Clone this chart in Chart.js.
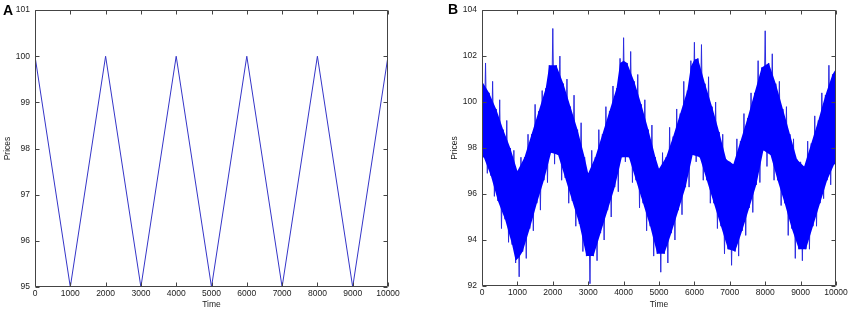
<!DOCTYPE html>
<html>
<head>
<meta charset="utf-8">
<script src="https://cdn.jsdelivr.net/npm/chart.js@4/dist/chart.umd.min.js"></script>
<style>
	html, body { margin: 0; padding: 0; background: #fff; }
	body { width: 851px; height: 311px; position: relative; overflow: hidden; }
	.panel { position: absolute; top: 0; }
	.letter { position: absolute; font: bold 14px "Liberation Sans", Arial, sans-serif; line-height: 14px; color: #000; z-index: 2; }
</style>
</head>
<body>
<div class="letter" style="left:3px; top:3px;">A</div>
<div class="letter" style="left:448px; top:2px;">B</div>
<canvas id="chartA" class="panel" style="left:0px;" width="430" height="311"></canvas>
<canvas id="chartB" class="panel" style="left:447px;" width="404" height="311"></canvas>
<script>
"use strict";

// Panel A: the clean triangle wave
const timesA = [0, 1000, 2000, 3000, 4000, 5000, 6000, 7000, 8000, 9000, 10000];
const pricesA = [100, 95, 100, 95, 100, 95, 100, 95, 100, 95, 100];

// Panel B: noisy prices, read as local highs (t = 0, 100, ... 10000)
// and local lows (t = 50, 150, ... 9950)
const highsB = [
	100.9, 101.7, 100.4, 100.9, 99.7, 100.1, 98.8, 99.2, 98.0, 97.9,
	97.0, 97.6, 97.6, 98.6, 98.6, 99.9, 99.6, 100.5, 100.6, 101.6,
	103.2, 101.6, 102.0, 100.8, 101.0, 99.8, 100.3, 98.8, 99.1, 97.6,
	96.9, 97.9, 97.6, 98.8, 98.6, 99.8, 99.6, 100.7, 100.6, 101.9,
	102.8, 101.7, 102.2, 100.9, 101.2, 99.9, 100.1, 98.8, 99.0, 97.6,
	97.1, 97.8, 97.6, 98.9, 98.5, 99.7, 99.5, 100.9, 100.5, 101.8,
	102.6, 101.9, 102.5, 100.8, 101.1, 99.8, 100.0, 98.7, 98.6, 97.5,
	97.4, 97.3, 98.4, 98.3, 99.5, 99.3, 100.4, 100.4, 101.8, 101.5,
	103.1, 101.7, 102.1, 100.8, 100.9, 99.7, 99.8, 98.6, 98.4, 97.5,
	97.4, 97.2, 98.3, 98.2, 99.4, 99.2, 100.4, 100.3, 101.6, 101.2,
	101.7
];
const lowsB = [
	97.6, 96.9, 96.8, 95.9, 95.7, 94.5, 94.9, 93.9, 93.8, 93.0,
	92.4, 93.5, 93.2, 94.5, 94.4, 95.6, 95.3, 96.6, 96.5, 97.8,
	97.3, 97.7, 96.6, 96.7, 95.6, 95.7, 94.6, 94.7, 93.5, 93.3,
	92.1, 93.3, 93.1, 94.3, 94.0, 95.3, 95.0, 96.3, 96.1, 97.6,
	97.4, 97.6, 96.5, 96.6, 95.4, 95.6, 94.4, 94.6, 93.3, 93.4,
	92.6, 93.4, 93.0, 94.3, 94.0, 95.3, 95.1, 96.3, 96.3, 97.7,
	97.4, 97.6, 96.6, 96.6, 95.6, 95.6, 94.5, 94.6, 93.4, 93.6,
	92.9, 93.5, 93.3, 94.4, 94.2, 95.4, 95.2, 96.4, 96.5, 97.9,
	97.2, 97.7, 96.6, 96.6, 95.5, 95.6, 94.2, 94.5, 93.2, 93.6,
	93.1, 93.6, 93.6, 94.6, 94.6, 95.6, 95.8, 96.6, 96.4, 97.3
];
const highStep = 100;

const FONT = { family: '"Liberation Sans", Arial, sans-serif', size: 8.5 };
const INK = '#222';
const FRAME = '#444';

// MATLAB style box with inward ticks on all four sides
const frameTicks = {
	id: 'frameTicks',
	afterDatasetsDraw(chart) {
		const ctx = chart.ctx;
		const a = chart.chartArea;
		const x = chart.scales.x;
		const y = chart.scales.y;
		const len = 4;
		const L = Math.round(a.left) + 0.5, R = Math.round(a.right) - 0.5;
		const T = Math.round(a.top) + 0.5, B = Math.round(a.bottom) - 0.5;
		ctx.save();
		ctx.strokeStyle = FRAME;
		ctx.lineWidth = 1;
		ctx.beginPath();
		ctx.rect(L, T, R - L, B - T);
		x.ticks.forEach(function (t) {
			const px = Math.round(x.getPixelForValue(t.value)) + 0.5;
			ctx.moveTo(px, B); ctx.lineTo(px, B - len);
			ctx.moveTo(px, T); ctx.lineTo(px, T + len);
		});
		y.ticks.forEach(function (t) {
			const py = Math.round(y.getPixelForValue(t.value)) + 0.5;
			ctx.moveTo(L, py); ctx.lineTo(L + len, py);
			ctx.moveTo(R, py); ctx.lineTo(R - len, py);
		});
		ctx.stroke();
		ctx.restore();
	}
};

function axes(yMin, yMax, yStep, xHeight) {
	return {
		x: {
			type: 'linear', min: 0, max: 10000,
			grid: { display: false, drawTicks: false },
			border: { display: false },
			ticks: { stepSize: 1000, autoSkip: false, maxRotation: 0, padding: 2, color: INK, font: FONT,
				callback: function (v) { return String(v); } },
			title: { display: true, text: 'Time', color: INK, font: FONT, padding: { top: 0, bottom: 1 } },
			afterFit: function (s) { s.height = xHeight; }
		},
		y: {
			type: 'linear', min: yMin, max: yMax,
			grid: { display: false, drawTicks: false },
			border: { display: false },
			ticks: { stepSize: yStep, padding: 5, color: INK, font: FONT,
				callback: function (v) { return String(v); } },
			title: { display: true, text: 'Prices', color: INK, font: FONT, padding: { top: 3, bottom: 0 } },
			afterFit: function (s) { s.width = 35; }
		}
	};
}

function baseOptions(scales, padRight) {
	return {
		responsive: false,
		animation: false,
		devicePixelRatio: 1,
		layout: { padding: { top: 8, right: padRight, bottom: 0, left: 0 } },
		plugins: { legend: { display: false }, tooltip: { enabled: false } },
		elements: { point: { radius: 0 } },
		scales: scales
	};
}

new Chart(document.getElementById('chartA'), {
	type: 'line',
	data: {
		datasets: [{
			data: timesA.map(function (t, i) { return { x: t, y: pricesA[i] }; }),
			borderColor: '#3535c8', borderWidth: 1, tension: 0, fill: false
		}]
	},
	options: baseOptions(axes(95, 101, 1, 24), 42),
	plugins: [frameTicks]
});

// zig-zag between the read highs and lows
const pointsB = [];
highsB.forEach(function (h, i) {
	pointsB.push({ x: i * highStep, y: h });
	if (i < lowsB.length) {
		pointsB.push({ x: i * highStep + highStep / 2, y: lowsB[i] });
	}
});

// dense core: a swing only counts as far as its neighbours reach,
// so single spikes stay thin lines outside the solid band
function coreOf(arr, i, pick) {
	const a = arr[Math.max(0, i - 1)], b = arr[Math.min(arr.length - 1, i + 1)];
	return pick(arr[i], (a + b) / 2);
}
const coreTop = highsB.map(function (h, i) {
	return { x: i * highStep, y: coreOf(highsB, i, Math.min) };
});
const coreBottom = lowsB.map(function (l, i) {
	return { x: i * highStep + highStep / 2, y: coreOf(lowsB, i, Math.max) };
});
coreBottom.unshift({ x: 0, y: lowsB[0] });
coreBottom.push({ x: 10000, y: lowsB[lowsB.length - 1] });

new Chart(document.getElementById('chartB'), {
	type: 'line',
	data: {
		datasets: [
			{
				data: coreTop, borderWidth: 0, borderColor: 'rgba(0,0,255,0)',
				backgroundColor: '#0000ff', tension: 0, fill: '+1'
			},
			{
				data: coreBottom, borderWidth: 0, borderColor: 'rgba(0,0,255,0)',
				tension: 0, fill: false
			},
			{
				data: pointsB,
				borderColor: '#2a2ae0', borderWidth: 1, tension: 0, fill: false
			}
		]
	},
	options: baseOptions(axes(92, 104, 2, 25), 15),
	plugins: [frameTicks]
});
</script>
</body>
</html>
